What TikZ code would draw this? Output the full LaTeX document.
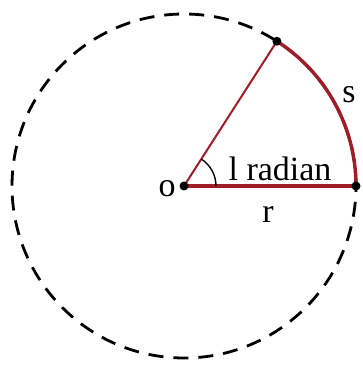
\documentclass[tikz,border=0pt]{standalone}
\usepackage{fontspec}
\setmainfont{Liberation Serif}
\usetikzlibrary{calc}
\definecolor{arcred}{RGB}{160,28,38}
\begin{document}
\begin{tikzpicture}[x=1pt,y=1pt,
  lbl/.style={font=\fontsize{34}{38}\selectfont, inner sep=0pt},
  dot/.style={circle, fill=black, inner sep=0pt, minimum size=9pt}]
\useasboundingbox (0,0) rectangle (363,367);
\coordinate (O) at (184,181);
\draw[black, line width=2.8pt, dash pattern=on 15pt off 10pt] (O) circle (172);
\coordinate (A) at ($(O)+(57.3:172)$);
\coordinate (B) at ($(O)+(0:172)$);
\draw[arcred, line width=2pt] (O) -- (A);
\draw[arcred, line width=3.6pt] (O) -- (B);
\draw[arcred, line width=3.4pt] (B) arc[start angle=0, end angle=57.3, radius=172];
\draw[black, line width=1.4pt] ($(O)+(0:32)$) arc[start angle=0, end angle=57.3, radius=32];
\node[dot] (o) at (O) {};
\node[dot] (a) at (A) {};
\node[dot] (b) at (B) {};
\node[lbl] (ol) at (167,178) {o};
\node[lbl] (rl) at (268,153) {r};
\node[lbl] (sl) at (349,272) {s};
\node[lbl] (rad) at (280,198) {l radian};
\end{tikzpicture}
\end{document}
